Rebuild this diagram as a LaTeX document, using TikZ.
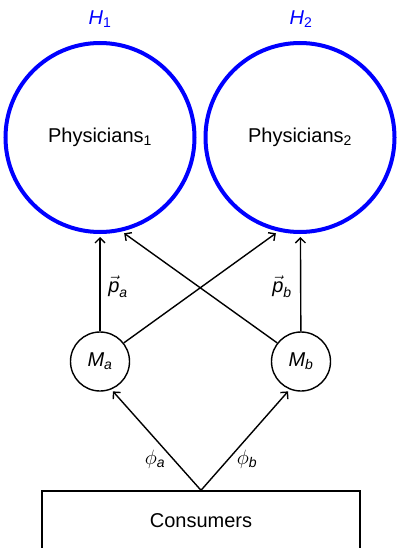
\documentclass[tikz,border=0pt]{standalone}
\usepackage{amsmath}
\usepackage{fontspec}
\setmainfont{Liberation Sans}
\usetikzlibrary{arrows.meta}
\newcommand\itm[1]{\text{\itshape #1}}
\newcommand\upsub[1]{\text{\upshape #1}}
\tikzset{
  big/.style={circle, draw=blue, line width=4pt, inner sep=0pt, minimum size=189pt},
  small/.style={circle, draw, line width=1.4pt, inner sep=0pt, minimum size=59pt},
  box/.style={rectangle, draw, line width=1.4pt, minimum width=318pt, minimum height=60pt},
  conn/.style={line width=1.4pt, -{Straight Barb[length=5pt,width=10pt]}},
  lbl/.style={inner sep=0pt},
  hlbl/.style={inner sep=0pt, text=blue}
}
\begin{document}
\begin{tikzpicture}[x=1pt, y=-1pt, font=\fontsize{20}{24}\selectfont]
\useasboundingbox (0,0) rectangle (397,548);
\node[big] (H1) at (100,137.5) {Physicians$_{\upsub{1}}$};
\node[big] (H2) at (300,137.5) {Physicians$_{\upsub{2}}$};
\node[hlbl] (h1l) at (100,19) {$\itm{H}_{\upsub{1}}$};
\node[hlbl] (h2l) at (301,19) {$\itm{H}_{\upsub{2}}$};
\node[small] (Ma) at (100,361.5) {$\itm{M}_{\itm{a}}$};
\node[small] (Mb) at (301,361.5) {$\itm{M}_{\itm{b}}$};
\node[box] (C) at (201,521) {Consumers};
\draw[conn, shorten >=3pt] (Ma) -- (H1);
\draw[conn, shorten >=3pt] (Mb) -- (H2);
\draw[conn, shorten >=3pt] (Ma.38) -- (H2.257);
\draw[conn, shorten >=3pt] (Mb.142) -- (H1.283);
\draw[conn, shorten >=2.5pt] (C.north) -- (Ma.292);
\draw[conn, shorten >=2.5pt] (C.north) -- (Mb.248);
\node[lbl] (pa) at (118,287) {$\vec{\itm{p}}_{\itm{a}}$};
\node[lbl] (pb) at (282,287) {$\vec{\itm{p}}_{\itm{b}}$};
\node[lbl] (fa) at (155,459) {$\phi_{\itm{a}}$};
\node[lbl] (fb) at (247,459) {$\phi_{\itm{b}}$};
\end{tikzpicture}
\end{document}
